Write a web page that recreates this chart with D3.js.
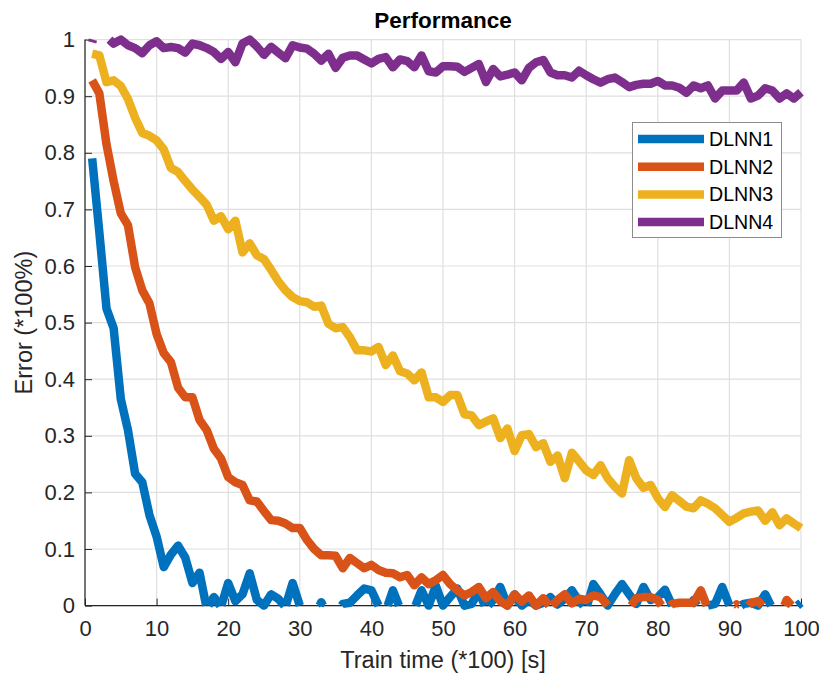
<!DOCTYPE html>
<html><head><meta charset="utf-8">
<script src="https://cdn.jsdelivr.net/npm/d3@7/dist/d3.min.js"></script>
<style>html,body{margin:0;padding:0;background:#fff;}svg{display:block;font-family:"Liberation Sans",Arial,sans-serif;}</style>
</head><body><svg id="c" width="819" height="675"></svg>
<script>
const xTicks = [0,10,20,30,40,50,60,70,80,90,100];
const yTicks = [0,0.1,0.2,0.3,0.4,0.5,0.6,0.7,0.8,0.9,1];
const yTickLabels = ["0","0.1","0.2","0.3","0.4","0.5","0.6","0.7","0.8","0.9","1"];
const seriesNames = ["DLNN1","DLNN2","DLNN3","DLNN4"];
const seriesColors = ["#0072BD","#D95319","#EDB120","#7E2F8E"];
const trainTime = d3.range(1,101);
const dlnn1 = [0.79,0.66,0.525,0.49,0.365,0.31,0.233,0.218,0.16,0.122,
0.068,0.09,0.106,0.085,0.04,0.058,-0.005,0.015,-0.002,0.04,
0.008,0.02,0.057,0.01,0.0,0.02,0.012,-0.002,0.04,0.0,
-0.02,-0.02,0.006,-0.02,-0.015,0.003,0.005,0.018,0.03,0.027,
0.0,-0.01,0.027,-0.005,-0.02,-0.005,0.027,0.0,0.035,0.0,
0.015,0.03,0.0,0.003,0.025,-0.005,0.01,0.033,0.0,0.02,
0.0,0.01,0.0,0.005,0.015,0.002,0.012,0.027,0.008,-0.005,
0.038,0.02,0.0,0.02,0.038,0.02,0.003,0.033,0.01,0.015,
0.028,0.0,-0.02,-0.02,0.01,-0.01,0.0,0.003,0.033,0.0,
-0.005,0.003,0.005,0.0,0.02,-0.005,-0.02,-0.02,-0.005,0.005];
const dlnn2 = [0.928,0.905,0.815,0.75,0.693,0.672,0.598,0.557,0.534,0.48,
0.446,0.43,0.385,0.368,0.368,0.328,0.31,0.277,0.26,0.227,
0.218,0.213,0.186,0.184,0.167,0.151,0.15,0.145,0.137,0.137,
0.116,0.1,0.089,0.089,0.088,0.066,0.084,0.075,0.066,0.072,
0.063,0.058,0.057,0.05,0.054,0.036,0.05,0.038,0.045,0.054,
0.038,0.027,0.018,0.024,0.033,0.013,0.024,0.008,0.0,0.02,
0.007,0.018,0.0,0.013,-0.003,0.01,0.02,0.004,0.012,0.01,
0.018,0.015,0.0,-0.02,-0.02,-0.005,0.013,0.015,0.015,0.01,
-0.01,0.003,0.005,0.005,0.005,0.027,-0.005,-0.02,-0.005,-0.01,
0.002,-0.01,0.005,0.008,-0.005,-0.02,-0.02,0.01,-0.005,-0.02];
const dlnn3 = [0.975,0.972,0.925,0.928,0.918,0.895,0.862,0.835,0.83,0.822,
0.806,0.773,0.766,0.75,0.735,0.722,0.708,0.68,0.688,0.665,
0.68,0.624,0.64,0.619,0.612,0.593,0.573,0.557,0.545,0.538,
0.536,0.528,0.53,0.498,0.49,0.492,0.474,0.451,0.451,0.449,
0.457,0.425,0.442,0.414,0.41,0.398,0.412,0.368,0.368,0.36,
0.372,0.372,0.338,0.336,0.319,0.325,0.331,0.296,0.313,0.273,
0.301,0.303,0.28,0.287,0.254,0.265,0.225,0.27,0.255,0.239,
0.231,0.248,0.225,0.21,0.198,0.257,0.225,0.208,0.213,0.19,
0.174,0.195,0.185,0.175,0.172,0.186,0.18,0.172,0.16,0.148,
0.155,0.163,0.166,0.168,0.15,0.165,0.142,0.154,0.145,0.137];
const dlnn4 = [0.995,1.04,1.005,0.993,1.0,0.99,0.985,0.976,0.99,0.997,
0.985,0.987,0.985,0.977,0.993,0.99,0.985,0.978,0.966,0.978,
0.96,0.993,1.0,0.988,0.973,0.987,0.977,0.967,0.99,0.986,
0.984,0.975,0.963,0.975,0.95,0.968,0.972,0.972,0.965,0.958,
0.966,0.969,0.951,0.965,0.962,0.951,0.972,0.944,0.942,0.953,
0.953,0.952,0.943,0.95,0.957,0.925,0.948,0.935,0.938,0.942,
0.928,0.95,0.96,0.964,0.942,0.937,0.937,0.933,0.945,0.937,
0.93,0.924,0.93,0.933,0.925,0.916,0.92,0.922,0.922,0.927,
0.919,0.919,0.915,0.906,0.919,0.914,0.919,0.896,0.91,0.91,
0.91,0.924,0.896,0.901,0.914,0.91,0.896,0.905,0.896,0.907];
const seriesValues = [dlnn1,dlnn2,dlnn3,dlnn4];

const svg = d3.select("#c");
const L=85, R=801, T=39.6, B=605.6;
const x = d3.scaleLinear().domain([0,100]).range([L,R]);
const y = d3.scaleLinear().domain([0,1]).range([B,T]);
const axisCol = "#262626";

// grid
const g = svg.append("g");
g.selectAll(".gx").data(xTicks).enter().append("line")
  .attr("x1",d=>x(d)).attr("x2",d=>x(d)).attr("y1",T).attr("y2",B)
  .attr("stroke","#dfdfdf").attr("stroke-width",1.2);
g.selectAll(".gy").data(yTicks).enter().append("line")
  .attr("x1",L).attr("x2",R).attr("y1",d=>y(d)).attr("y2",d=>y(d))
  .attr("stroke","#dfdfdf").attr("stroke-width",1.2);

// axes
const xAxis = d3.axisBottom(x).tickValues(xTicks).tickSize(-7).tickPadding(15).tickFormat(d3.format("d"));
const yAxis = d3.axisLeft(y).tickValues(yTicks).tickSize(-7).tickPadding(10).tickFormat((d,i)=>yTickLabels[i]);
const gx = svg.append("g").attr("transform",`translate(0,${B})`).call(xAxis);
const gy = svg.append("g").attr("transform",`translate(${L},0)`).call(yAxis);
[gx,gy].forEach(a=>{
  a.select(".domain").remove();
  a.selectAll(".tick line").attr("stroke",axisCol).attr("stroke-width",1);
  a.selectAll(".tick text").attr("fill",axisCol).style("font-size","22px").style("font-family","'Liberation Sans',Arial,sans-serif");
});
svg.append("line").attr("x1",L).attr("x2",L).attr("y1",T).attr("y2",B).attr("stroke",axisCol).attr("stroke-width",1.2);
svg.append("line").attr("x1",L).attr("x2",R).attr("y1",B).attr("y2",B).attr("stroke",axisCol).attr("stroke-width",1.2);

// clip polyline geometry to y in [0,1]
function clipPieces(xs, ys){
  const pieces=[]; let cur=null;
  for(let i=0;i<xs.length-1;i++){
    const p=[xs[i],ys[i]], q=[xs[i+1],ys[i+1]];
    let t0=0,t1=1,skip=false; const dy=q[1]-p[1];
    if(dy===0){ if(p[1]<0||p[1]>1) skip=true; }
    else {
      const ta=(0-p[1])/dy, tb=(1-p[1])/dy;
      if(dy>0){ t0=Math.max(t0,ta); t1=Math.min(t1,tb); }
      else { t0=Math.max(t0,tb); t1=Math.min(t1,ta); }
    }
    if(skip||t0>t1){ cur=null; continue; }
    const a=[p[0]+(q[0]-p[0])*t0, p[1]+dy*t0], b=[p[0]+(q[0]-p[0])*t1, p[1]+dy*t1];
    if(!cur||t0>0){ cur=[a]; pieces.push(cur); }
    cur.push(b);
    if(t1<1) cur=null;
  }
  return pieces;
}
const line = d3.line().x(d=>x(d[0])).y(d=>y(d[1]));
seriesValues.forEach((vals,si)=>{
  const pcs = clipPieces(trainTime, vals);
  svg.append("g").selectAll("path").data(pcs).enter().append("path")
    .attr("d",line).attr("fill","none").attr("stroke",seriesColors[si])
    .attr("stroke-width",8.5).attr("stroke-linejoin","round").attr("stroke-linecap","butt");
});

// title & labels
svg.append("text").attr("x",(L+R)/2).attr("y",28).attr("text-anchor","middle")
  .style("font-size","22.5px").style("font-weight","bold").attr("fill","#000").text("Performance");
svg.append("text").attr("x",(L+R)/2).attr("y",668).attr("text-anchor","middle")
  .style("font-size","23.5px").attr("fill",axisCol).text("Train time (*100) [s]");
svg.append("text").attr("transform",`translate(32,${(T+B)/2}) rotate(-90)`).attr("text-anchor","middle")
  .style("font-size","23.5px").attr("fill",axisCol).text("Error (*100%)");

// legend
const lg = svg.append("g");
lg.append("rect").attr("x",632.5).attr("y",122.5).attr("width",149).attr("height",115)
  .attr("fill","#fff").attr("stroke","#8c8c8c").attr("stroke-width",1);
seriesNames.forEach((n,i)=>{
  const yy = 139 + i*27.7;
  lg.append("line").attr("x1",638).attr("x2",704).attr("y1",yy).attr("y2",yy)
    .attr("stroke",seriesColors[i]).attr("stroke-width",8.5);
  lg.append("text").attr("x",709).attr("y",yy+7).style("font-size","19.6px").attr("fill","#000").text(n);
});
</script></body></html>
